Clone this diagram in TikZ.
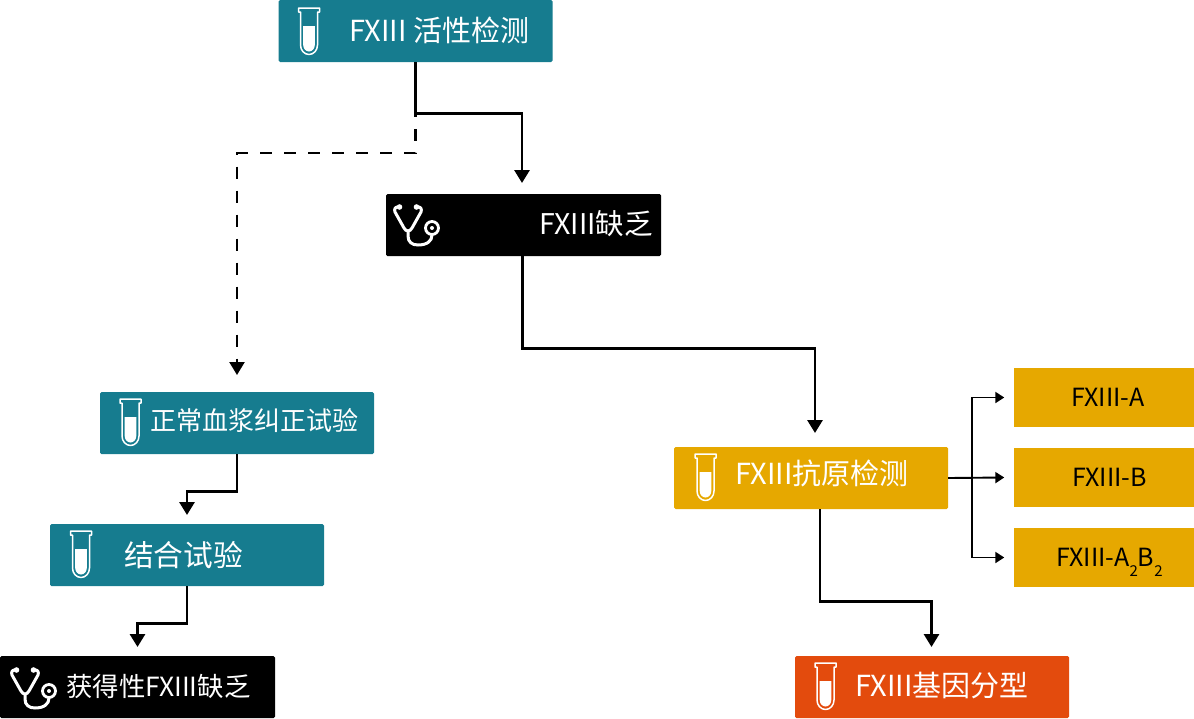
\documentclass[tikz,border=0pt]{standalone}
\usepackage{fontspec}
\setmainfont{Noto Sans CJK SC}
\usetikzlibrary{arrows.meta,calc}
\definecolor{tealx}{HTML}{167C8F}
\definecolor{amber}{HTML}{E6A800}
\definecolor{flame}{HTML}{E34B0D}
\newcommand{\lsize}[1]{\fontsize{#1}{#1}\selectfont}
\newcommand{\lowsub}{\raisebox{-10pt}{\lsize{15}2}}
\tikzset{
  x=1pt,y=-1pt,
  box/.style={minimum width=274pt,minimum height=62pt,inner sep=0pt,rounded corners=1.5pt},
  tealbox/.style={box,fill=tealx},
  blackbox/.style={box,fill=black},
  amberbox/.style={box,fill=amber},
  flamebox/.style={box,fill=flame},
  subbox/.style={minimum width=180pt,minimum height=59pt,inner sep=0pt,fill=amber},
  sublabel/.style={inner sep=0pt,text=black,font=\lsize{25}},
  conn/.style={draw=black,line width=2.9pt,-{Triangle[length=13pt,width=15pt]}},
  thin conn/.style={draw=black,line width=1.9pt,-{Triangle[length=9pt,width=11pt]}},
  dash conn/.style={draw=black,line width=2.4pt,dash pattern=on 12pt off 12pt,dash phase=8pt,-{Triangle[length=13pt,width=15pt]}},
  label/.style={inner sep=0pt,text=white},
  pics/tube/.style={code={
    \draw[white,line width=1.5pt,line join=round] (-10.5,1) -- (10.5,1) -- (10.5,5) -- (8.5,5) -- (8.5,38) arc[start angle=0,end angle=180,x radius=8.5,y radius=9.5] -- (-8.5,5) -- (-10.5,5) -- cycle;
    \fill[white] (-5.8,19) -- (5.8,19) -- (5.8,38) arc[start angle=0,end angle=180,x radius=5.8,y radius=6.5] -- cycle;
  }},
  pics/steth/.style={code={
    \draw[white,line width=3pt,line cap=round,line join=round]
      (12,12) .. controls (8,11.5) and (7,14) .. (8,17) -- (17,33) .. controls (19,37) and (23,37) .. (25,33) -- (34,17) .. controls (35,14) and (34,11.5) .. (30,12);
    \fill[white] (12.5,12) circle[radius=2.8] (29.5,12) circle[radius=2.8];
    \draw[white,line width=3pt,line cap=round] (21,36) -- (21,41) .. controls (21,47) and (25,50) .. (31,50) .. controls (40,50) and (45,46) .. (45,40);
    \draw[white,line width=2.8pt] (45,33) circle[radius=6.5];
    \fill[white] (45,33) circle[radius=2];
  }},
}
\begin{document}
\begin{tikzpicture}
\useasboundingbox (0,0) rectangle (1194,718);
\node[tealbox] (act) at (415.5,31) {};
\node[blackbox,minimum width=275pt] (def) at (523.5,225) {};
\node[tealbox] (norm) at (237,423) {};
\node[tealbox] (bind) at (187,555) {};
\node[blackbox,minimum width=275pt] (acq) at (137.5,687) {};
\node[amberbox] (ant) at (811,478) {};
\node[flamebox] (gene) at (932,687) {};
\node[subbox] (fa) at (1103.5,397.5) {};
\node[subbox] (fb) at (1103.5,477.5) {};
\node[subbox] (fab) at (1103.5,557.5) {};
\node[sublabel] (l1) at (1108,397) {FXIII-A};
\node[sublabel] (l2) at (1109.5,477) {FXIII-B};
\node[sublabel,anchor=base west] (l3) at (1056,566) {FXIII-A\lowsub B\lowsub};
\node[label,font=\lsize{29},anchor=west] (t1) at (349,30) {FXIII 活性检测};
\node[label,font=\lsize{28.5},anchor=east] (t2) at (653,224) {FXIII缺乏};
\node[label,font=\lsize{26},anchor=west] (t3) at (150,421) {正常血浆纠正试验};
\node[label,font=\lsize{29.7},anchor=west] (t4) at (124,555) {结合试验};
\node[label,font=\lsize{26.4},anchor=west] (t5) at (66,686) {获得性FXIII缺乏};
\node[label,font=\lsize{29},anchor=west] (t6) at (735,473) {FXIII抗原检测};
\node[label,font=\lsize{29},anchor=west] (t7) at (855,686) {FXIII基因分型};
\pic at (309,7) {tube};
\pic at (130.5,398) {tube};
\pic at (81,530) {tube};
\pic at (705.5,453) {tube};
\pic at (825.5,662) {tube};
\pic at (387,195) {steth};
\pic at (4,658) {steth};
\coordinate (split) at ($(act.south)+(0,51)$);
\coordinate (defin) at (522,183);
\coordinate (normin) at (237,375);
\coordinate (antin) at (815,433);
\coordinate (bindin) at (187,515);
\coordinate (acqin) at (137.5,647);
\coordinate (genein) at (931.5,647);
\draw[conn] (act.south) -- (split) -| (defin);
\draw[dash conn] (split) -- ++(0,40) -| (normin);
\draw[conn] ([xshift=-1pt]def.south) -- ++(0,92) -| (antin);
\draw[conn] (norm.south) -- ++(0,37) -| (bindin);
\draw[conn] (bind.south) -- ++(0,37.5) -| (acqin);
\draw[conn] ([xshift=9pt]ant.south) -- ++(0,92) -| (genein);
\draw[thin conn] (ant.east) -- ([xshift=-9pt]fb.west);
\draw[thin conn] ([xshift=24pt]ant.east) |- ([xshift=-9pt]fa.west);
\draw[thin conn] ([xshift=24pt]ant.east) |- ([xshift=-9pt]fab.west);
\end{tikzpicture}
\end{document}
